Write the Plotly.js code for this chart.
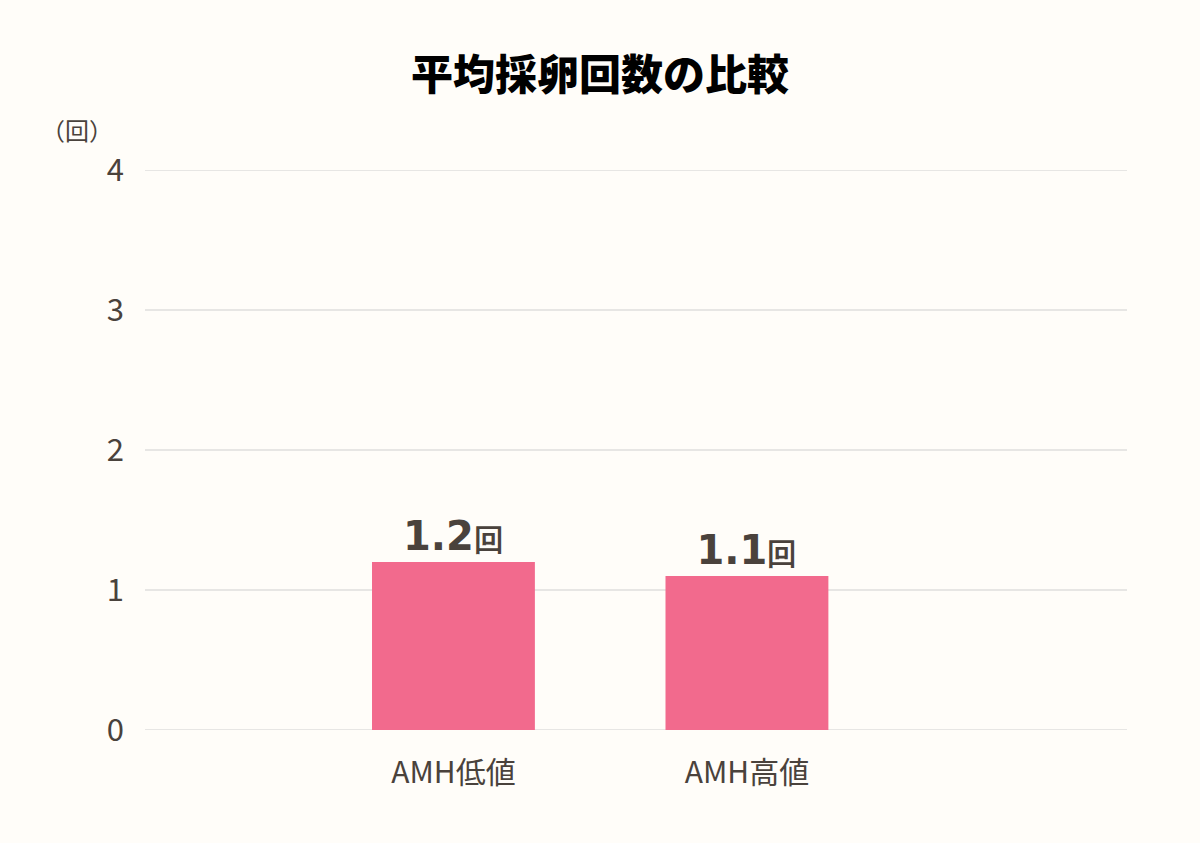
<!DOCTYPE html>
<html>
<head>
<meta charset="utf-8">
<script src="https://cdn.plot.ly/plotly-3.0.1.min.js"></script>
<style>
  html, body { margin: 0; padding: 0; background: #fffdf9; }
  #chart { width: 1200px; height: 843px; }
</style>
</head>
<body>
<div id="chart"></div>
<script>
var categories = ['AMH低値', 'AMH高値'];
var values = [1.2, 1.1];
var yTicks = [0, 1, 2, 3, 4];

var textColor = '#4a423c';
var jpFont = '"Noto Sans CJK JP", "Noto Sans", sans-serif';

var trace = {
  type: 'bar',
  x: categories,
  y: values,
  width: 0.555,
  marker: { color: '#f26a8d' },
  text: values.map(v => v.toFixed(1)),
  texttemplate: '<b>%{text}</b><span style="font-size:30px"><b>回</b></span>',
  textposition: 'outside',
  cliponaxis: false,
  textfont: { family: '"DejaVu Sans", Verdana, sans-serif', size: 40, color: textColor },
  hoverinfo: 'none'
};

// grid lines as shapes, so the ones at 0 and 4 (plot edges) show too
var gridShapes = yTicks.map(v => ({
  type: 'line',
  xref: 'paper',
  yref: 'y',
  x0: 0,
  x1: 1,
  y0: v,
  y1: v,
  layer: 'below',
  line: { color: '#cfcfcf', width: 1 }
}));

var layout = {
  width: 1200,
  height: 843,
  margin: { l: 145, r: 73, t: 170, b: 113 },
  paper_bgcolor: '#fffdf9',
  plot_bgcolor: '#fffdf9',
  showlegend: false,
  title: {
    text: '平均採卵回数の比較',
    x: 0.5,
    xanchor: 'center',
    y: 0.911,
    yanchor: 'middle',
    font: { family: jpFont, size: 42, color: '#000000', weight: 900 }
  },
  xaxis: {
    type: 'category',
    range: [-1.051, 2.295],
    showgrid: false,
    zeroline: false,
    showline: false,
    ticks: '',
    ticklabelstandoff: 22,
    tickfont: { family: jpFont, size: 30, color: textColor }
  },
  yaxis: {
    range: [0, 4],
    tickvals: yTicks,
    ticktext: yTicks.map(String),
    showgrid: false,
    zeroline: false,
    showline: false,
    ticks: '',
    ticklabelstandoff: 20,
    tickfont: { family: jpFont, size: 31, color: textColor }
  },
  shapes: gridShapes,
  annotations: [{
    text: '（回）',
    xref: 'paper',
    yref: 'paper',
    x: -0.069,
    y: 1.072,
    xanchor: 'center',
    yanchor: 'middle',
    showarrow: false,
    font: { family: jpFont, size: 24, color: textColor }
  }]
};

Plotly.newPlot('chart', [trace], layout, { displayModeBar: false });
</script>
</body>
</html>
